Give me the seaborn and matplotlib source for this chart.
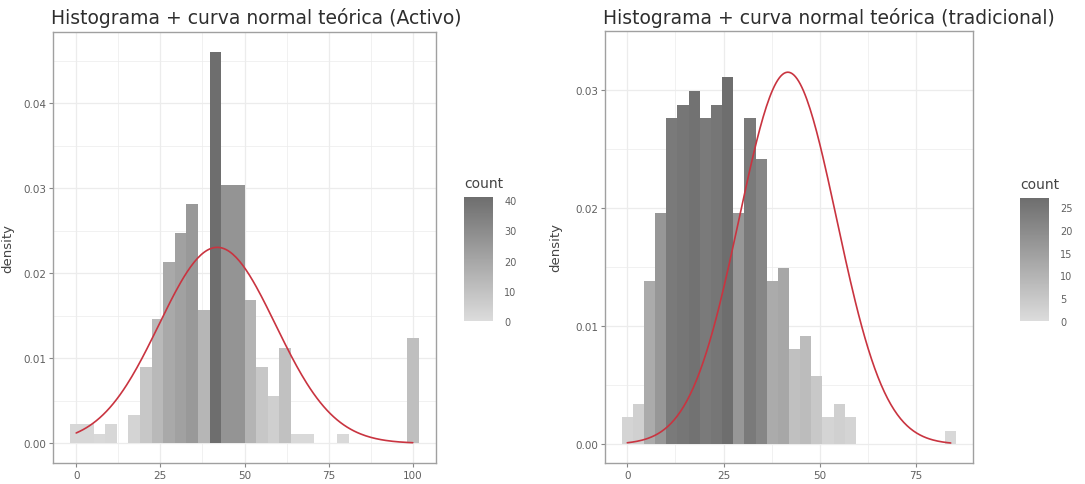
import numpy as np
import matplotlib
matplotlib.use("Agg")
import matplotlib.pyplot as plt
import seaborn as sns
from matplotlib.colors import LinearSegmentedColormap, Normalize
import matplotlib.colorbar as mcolorbar

# ---------------- data ----------------
# Panel 1: "Activo" -- 30 bins spanning the data range 0..100
activo_title = "Histograma + curva normal teórica (Activo)"
activo_range = (0, 100)
activo_counts = [2, 2, 1, 2, 0, 3, 8, 13, 19, 22, 25, 14, 41, 27, 27,
                 15, 8, 5, 10, 1, 1, 0, 0, 1, 0, 0, 0, 0, 0, 11]
activo_mean = 41.9
activo_sd = 17.3
activo_xticks = [0, 25, 50, 75, 100]
activo_yticks = [0.00, 0.01, 0.02, 0.03, 0.04]
activo_cticks = [0, 10, 20, 30, 40]
activo_cmax = 41

# Panel 2: "tradicional" -- 30 bins spanning the data range 0..84
trad_title = "Histograma + curva normal teórica (tradicional)"
trad_range = (0, 84)
trad_counts = [2, 3, 12, 17, 24, 25, 26, 24, 25, 27, 17, 24, 21, 12, 13,
               7, 8, 5, 2, 3, 2, 0, 0, 0, 0, 0, 0, 0, 0, 1]
trad_mean = 41.7
trad_sd = 12.66
trad_xticks = [0, 25, 50, 75]
trad_yticks = [0.00, 0.01, 0.02, 0.03]
trad_cticks = [0, 5, 10, 15, 20, 25]
trad_cmax = 27

n_bins = 30
y_label = "density"
legend_title = "count"

# ---------------- style ----------------
sns.set_theme(style="white")
plt.rcParams["font.family"] = ["DejaVu Sans"]

W, H = 1085, 485
fig = plt.figure(figsize=(W / 100, H / 100), dpi=100)
fig.patch.set_facecolor("white")

cmap = LinearSegmentedColormap.from_list("greyfill", ["#dcdcdc", "#6e6e6e"])
curve_color = "#c93440"
grid_color = "#ececec"
text_color = "#606060"
border_color = "#a0a0a0"


def px_rect(x0, y0, x1, y1):
    return [x0 / W, 1 - y1 / H, (x1 - x0) / W, (y1 - y0) / H]


def panel(rect, crect, title, rng, counts, mu, sd, xticks, yticks, cticks, cmax,
          ylabel_x):
    ax = fig.add_axes(px_rect(*rect))
    counts = np.asarray(counts, dtype=float)
    width = (rng[1] - rng[0]) / (n_bins - 1)
    centers = rng[0] + width * np.arange(n_bins)
    norm = Normalize(vmin=0, vmax=cmax)

    sns.histplot(x=centers, weights=counts, bins=n_bins,
                 binrange=(rng[0] - width / 2, rng[1] + width / 2),
                 stat="density", ax=ax, linewidth=0, alpha=1, zorder=2)
    for patch, c in zip(ax.patches, counts):
        patch.set_facecolor(cmap(norm(c)))
        patch.set_edgecolor("none")

    xs = np.linspace(rng[0], rng[1], 201)
    pdf = np.exp(-0.5 * ((xs - mu) / sd) ** 2) / (sd * np.sqrt(2 * np.pi))
    sns.lineplot(x=xs, y=pdf, ax=ax, color=curve_color, linewidth=1.2, zorder=3)

    # ggplot-like expansion (5%)
    x_lo, x_hi = rng[0] - width / 2, rng[1] + width / 2
    dx = (x_hi - x_lo) * 0.05
    ax.set_xlim(x_lo - dx, x_hi + dx)
    dens = counts / (counts.sum() * width)
    ytop = max(dens.max(), pdf.max())
    ax.set_ylim(-ytop * 0.05, ytop * 1.05)

    ax.set_xticks(xticks)
    ax.set_xticklabels([str(t) for t in xticks])
    ax.set_yticks(yticks)
    ax.set_yticklabels([f"{t:.2f}" for t in yticks])
    ax.set_xticks([(a + b) / 2 for a, b in zip(xticks[:-1], xticks[1:])], minor=True)
    ax.set_yticks([(a + b) / 2 for a, b in zip(yticks[:-1], yticks[1:])]
                  + [yticks[-1] + (yticks[1] - yticks[0]) / 2], minor=True)
    ax.grid(True, which="major", color=grid_color, linewidth=0.9, zorder=0)
    ax.grid(True, which="minor", color=grid_color, linewidth=0.5, zorder=0)
    ax.set_axisbelow(True)
    ax.tick_params(axis="both", which="major", length=3, width=0.8,
                   color="#888888", labelsize=7.5, labelcolor=text_color, pad=2,
                   bottom=True, left=True)
    ax.tick_params(axis="both", which="minor", length=0)
    for s in ax.spines.values():
        s.set_visible(True)
        s.set_color(border_color)
        s.set_linewidth(1.0)
    ax.set_xlabel("")
    ax.set_ylabel("")
    ax.set_facecolor("white")

    fig.text(rect[0] / W - 2 / W, 1 - 24 / H, title, fontsize=13.5, color="#2e2e2e",
             ha="left", va="baseline")
    fig.text(ylabel_x / W, 1 - ((rect[1] + rect[3]) / 2) / H, y_label,
             rotation=90, fontsize=9.5, color="#444444", ha="center", va="center")

    # colour bar legend
    cax = fig.add_axes(px_rect(*crect))
    cb = mcolorbar.ColorbarBase(cax, cmap=cmap, norm=norm, orientation="vertical")
    cb.outline.set_visible(False)
    cb.set_ticks(cticks)
    cb.set_ticklabels([str(t) for t in cticks])
    cax.tick_params(axis="y", direction="in", length=5, width=0.7, color="white",
                    labelsize=7, labelcolor=text_color, left=True, right=True,
                    pad=8)
    fig.text(crect[0] / W, 1 - (crect[1] - 10) / H, legend_title, fontsize=10,
             color="#444444", ha="left", va="baseline")
    return ax


panel((53, 33, 436, 464), (464, 198, 493, 322), activo_title, activo_range,
      activo_counts, activo_mean, activo_sd, activo_xticks, activo_yticks,
      activo_cticks, activo_cmax, ylabel_x=8)
panel((605, 32, 973, 464), (1020, 199, 1049, 322), trad_title, trad_range,
      trad_counts, trad_mean, trad_sd, trad_xticks, trad_yticks,
      trad_cticks, trad_cmax, ylabel_x=556)

fig.savefig("out.png", dpi=100, facecolor="white")
